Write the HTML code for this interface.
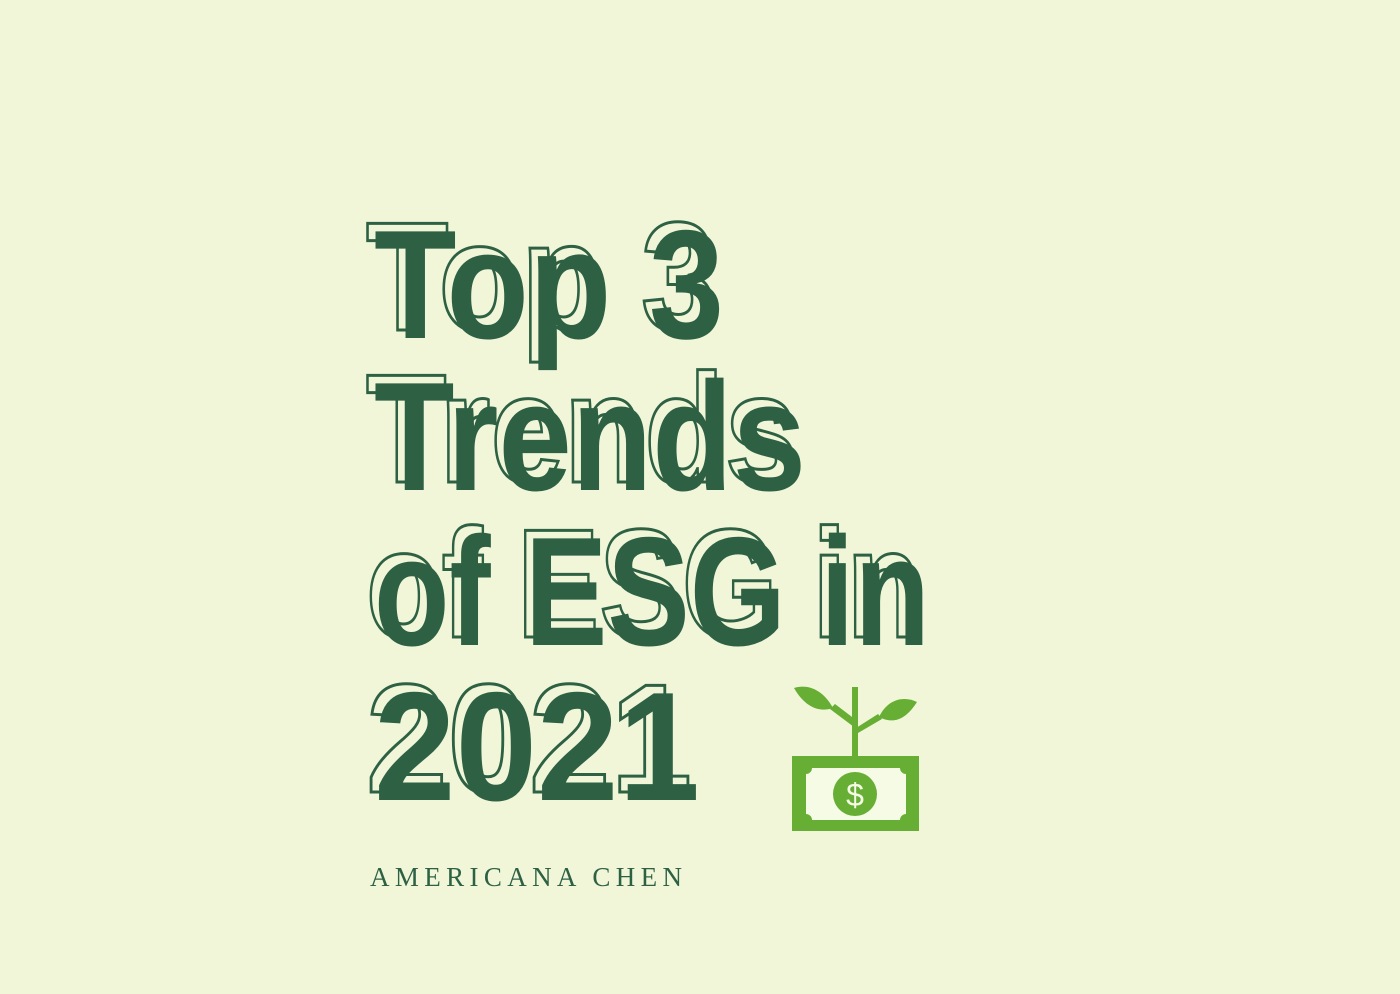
<!DOCTYPE html>
<html><head><meta charset="utf-8"><style>
html,body{margin:0;padding:0;background:#f1f6d8;}
svg{display:block}
</style></head><body>
<svg width="1400" height="994" viewBox="0 0 1400 994">
<rect width="1400" height="994" fill="#f1f6d8"/>
<g font-family="Liberation Sans, sans-serif" font-weight="bold" font-size="155">
  <g fill="#f1f6d8" stroke="#2e6144" stroke-width="3">
    <text x="366" y="330" textLength="350" lengthAdjust="spacingAndGlyphs">Top 3</text>
    <text x="366" y="482" textLength="432" lengthAdjust="spacingAndGlyphs">Trends</text>
    <text x="366" y="637" textLength="556" lengthAdjust="spacingAndGlyphs">of ESG in</text>
    <text x="366" y="792" textLength="326" lengthAdjust="spacingAndGlyphs">2021</text>
  </g>
  <g fill="#2e6144">
    <text x="374" y="338" textLength="350" lengthAdjust="spacingAndGlyphs">Top 3</text>
    <text x="374" y="490" textLength="432" lengthAdjust="spacingAndGlyphs">Trends</text>
    <text x="374" y="645" textLength="556" lengthAdjust="spacingAndGlyphs">of ESG in</text>
    <text x="374" y="800" textLength="326" lengthAdjust="spacingAndGlyphs">2021</text>
  </g>
</g>
<g fill="#67ae35">
  <rect x="852" y="687" width="6" height="72"/>
  <path d="M854 727 L830 709 L835 704 L856 720 Z"/>
  <path d="M833 708 C822 688 806 684 794 688 C802 702 815 714 833 708 Z"/>
  <path d="M856 728 L878 714 L882 719 L858 733 Z"/>
  <path d="M879 717 C888 698 905 696 917 702 C908 716 896 726 879 717 Z"/>
  <rect x="792" y="756" width="127" height="75"/>
  <path d="M812 768 H900 A6 6 0 0 0 906 774 V814 A6 6 0 0 0 900 820 H812 A6 6 0 0 0 806 814 V774 A6 6 0 0 0 812 768 Z" fill="#f6fbe6"/>
  <circle cx="855" cy="794" r="22"/>
  <text x="855" y="806" font-family="Liberation Sans, sans-serif" font-size="32" fill="#f6fbe6" text-anchor="middle">$</text>
</g>
<text x="370" y="886" font-family="Liberation Serif, serif" font-size="27" letter-spacing="3" fill="#2e6144" textLength="315">AMERICANA CHEN</text>
</svg>
</body></html>
